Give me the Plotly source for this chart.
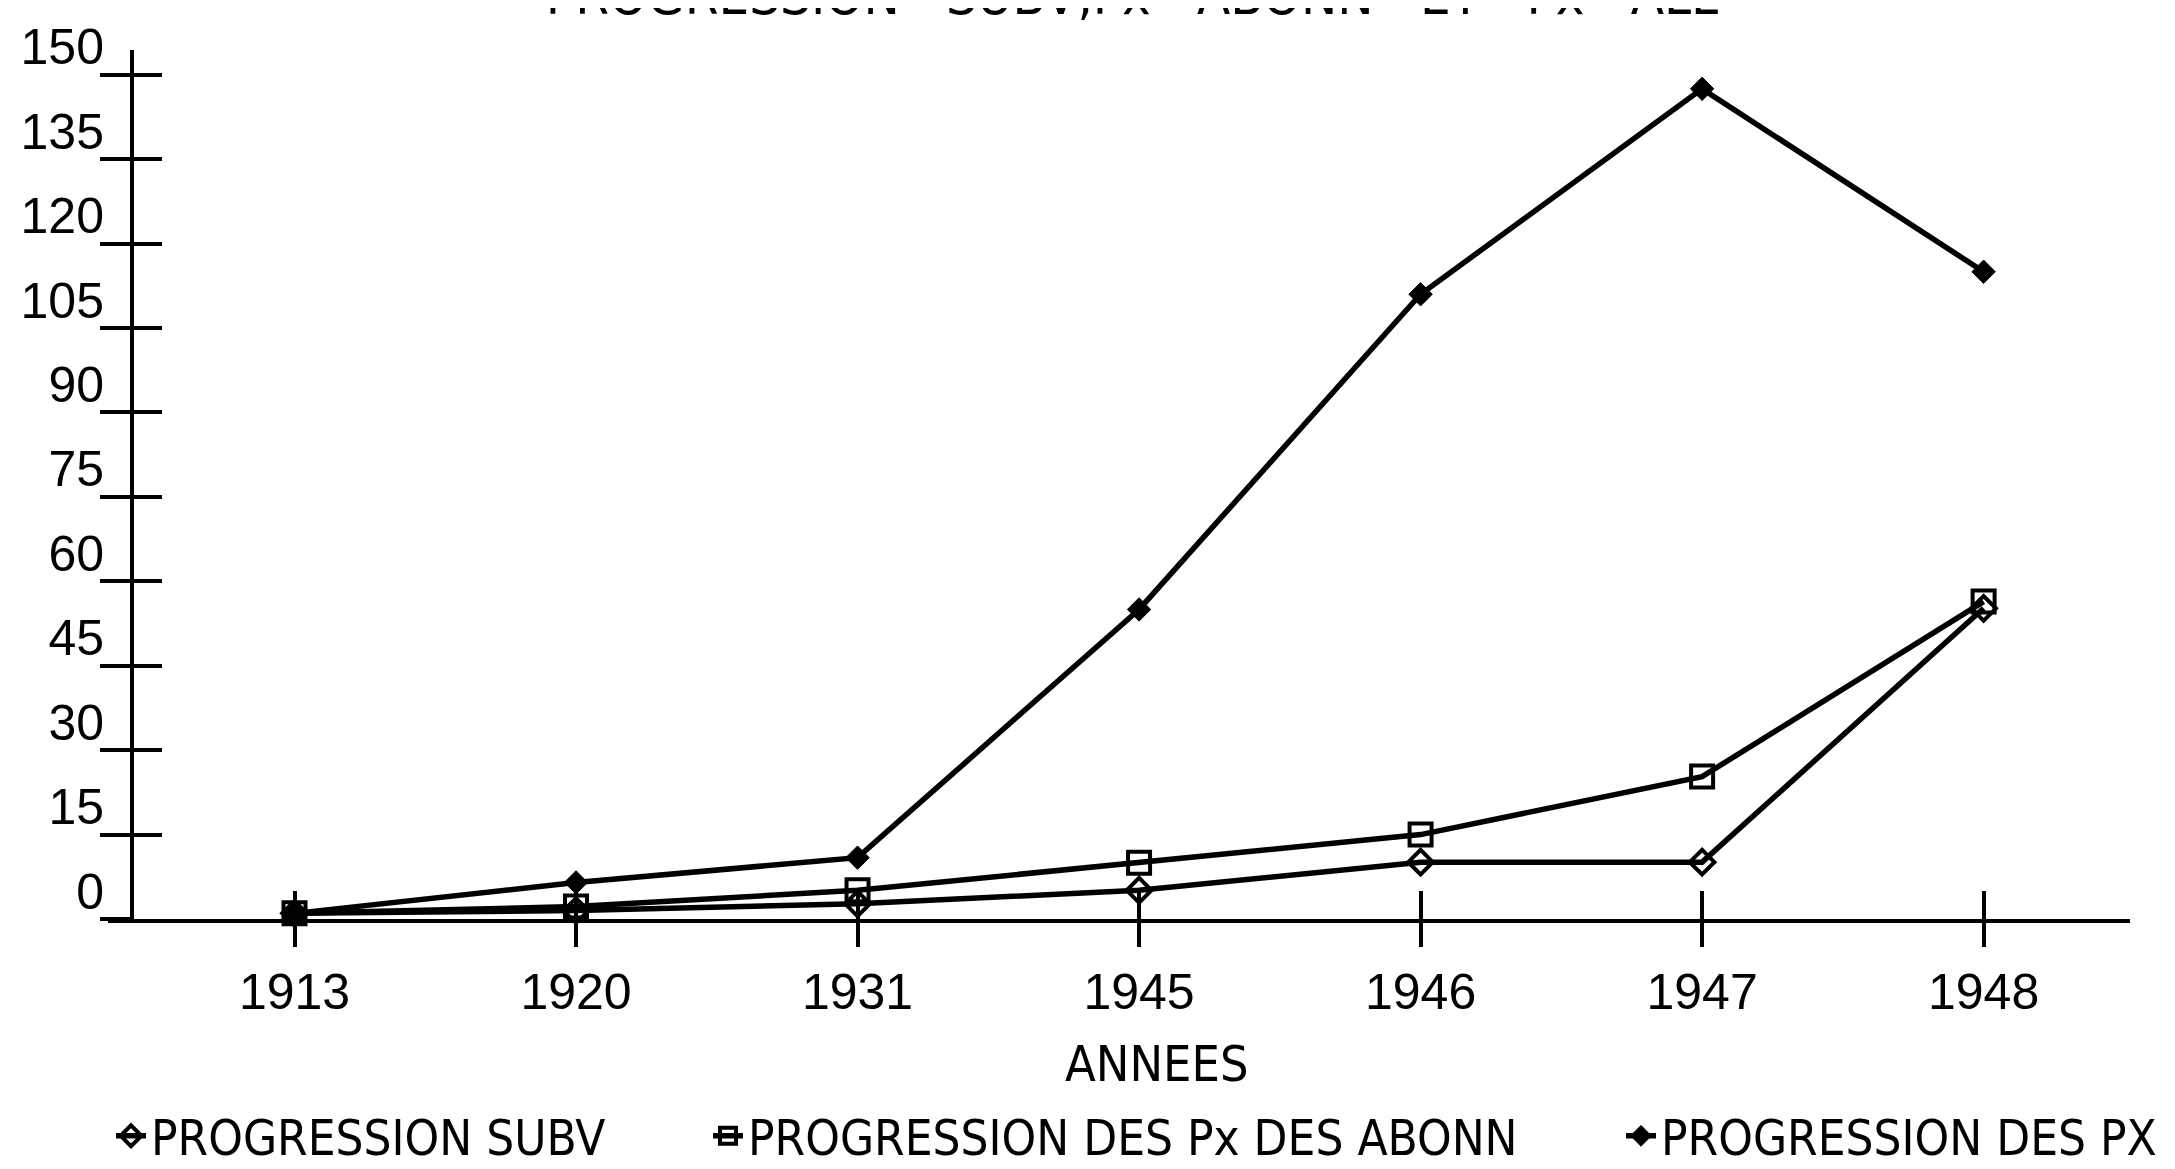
import plotly.graph_objects as go

# ---------------- data ----------------
years = ["1913", "1920", "1931", "1945", "1946", "1947", "1948"]
subv = [1, 1.5, 2.7, 5.1, 10.1, 10.1, 55.2]
abonn = [1, 2.2, 5.1, 10.0, 15.0, 25.3, 56.4]
px_all = [1, 6.5, 10.9, 55.0, 111.0, 147.5, 115.0]
y_ticks = [0, 15, 30, 45, 60, 75, 90, 105, 120, 135, 150]
series_names = ["PROGRESSION SUBV", "PROGRESSION DES Px DES ABONN", "PROGRESSION DES PX"]
title_words = ["PROGRESSION", "SUBV,Px", "ABONN", "ET", "Px", "ALL"]
x_title = "ANNEES"

# ---------------- layout constants ----------------
W, H = 2175, 1169
L, R, T, B = 100, 53, 42, 258
NARROW = "Liberation Sans Narrow, Arial Narrow, DejaVu Sans Condensed, Liberation Sans, Arial, sans-serif"
DIGITS = "Liberation Sans, Arial, sans-serif"
X_RANGE = [-0.6625, 6.52]
Y_RANGE = [0, 154.4]
YPOS = (124 - L) / (W - L - R)
LW = 5.5

fig = go.Figure()

styles = [
    dict(symbol="diamond-open", size=19, line=dict(width=4, color="black")),
    dict(symbol="square-open", size=22, line=dict(width=4, color="black")),
    dict(symbol="diamond", size=18, line=dict(width=1, color="black")),
]
for i, (name, vals) in enumerate(zip(series_names, [subv, abonn, px_all])):
    fig.add_trace(go.Scatter(
        x=years, y=vals, name=name, mode="lines+markers",
        line=dict(color="black", width=LW),
        marker=dict(color="black", **styles[i]),
        cliponaxis=False,
        legend="legend" if i == 0 else f"legend{i+1}",
    ))

# invisible trace carrying the overlay axes (crossing tick marks)
fig.add_trace(go.Scatter(x=years, y=[None] * len(years), xaxis="x2", yaxis="y2",
                         mode="lines", showlegend=False, hoverinfo="skip"))

axis_common = dict(showgrid=False, zeroline=False, color="black",
                   tickcolor="black", tickwidth=4)

fig.update_layout(
    width=W, height=H, autosize=False,
    margin=dict(l=L, r=R, t=T, b=B, pad=0),
    paper_bgcolor="white", plot_bgcolor="white",
    font=dict(family=NARROW, color="black", size=50),
    title=dict(text="\u00a0\u00a0\u00a0".join(title_words),
               font=dict(family=NARROW, size=54, color="black"),
               x=1124 / W, xanchor="center", xref="container",
               y=1 - 6 / H, yanchor="bottom", yref="container"),
    xaxis=dict(type="category", range=X_RANGE, anchor="y",
               showline=True, linewidth=4, linecolor="black",
               ticks="outside", ticklen=24, ticklabelstandoff=2,
               tickfont=dict(family=DIGITS, size=50, color="black"),
               **axis_common),
    yaxis=dict(range=Y_RANGE, anchor="free", position=YPOS,
               showline=True, linewidth=4, linecolor="black",
               tickmode="array", tickvals=y_ticks,
               ticks="outside", ticklen=30, ticklabelshift=-28, ticklabelstandoff=-14,
               tickfont=dict(family=DIGITS, size=50, color="black"),
               **axis_common),
    xaxis2=dict(type="category", range=X_RANGE, overlaying="x", anchor="y2",
                showline=False, ticks="inside", ticklen=28, showticklabels=False,
                **axis_common),
    yaxis2=dict(range=Y_RANGE, overlaying="y", anchor="free", position=YPOS,
                showline=False, tickmode="array", tickvals=y_ticks[1:],
                ticks="inside", ticklen=29, showticklabels=False,
                **axis_common),
    annotations=[dict(text=x_title, xref="paper", yref="paper",
                      x=(1148 - L) / (W - L - R), y=-(1056 - (H - B)) / (H - B - T),
                      xanchor="center", yanchor="middle", showarrow=False,
                      font=dict(family=NARROW, size=50, color="black"))],
    showlegend=True,
)

legend_x = [128, 725, 1638]
for i, lx in enumerate(legend_x):
    key = "legend" if i == 0 else f"legend{i+1}"
    fig.update_layout({key: dict(orientation="h", xref="container", yref="container",
                                 x=(lx - 25) / W, xanchor="left",
                                 y=1 - 1128 / H, yanchor="middle",
                                 bgcolor="rgba(0,0,0,0)", borderwidth=0,
                                 font=dict(family=NARROW, size=49, color="black"))})

fig.write_html("out.html")
